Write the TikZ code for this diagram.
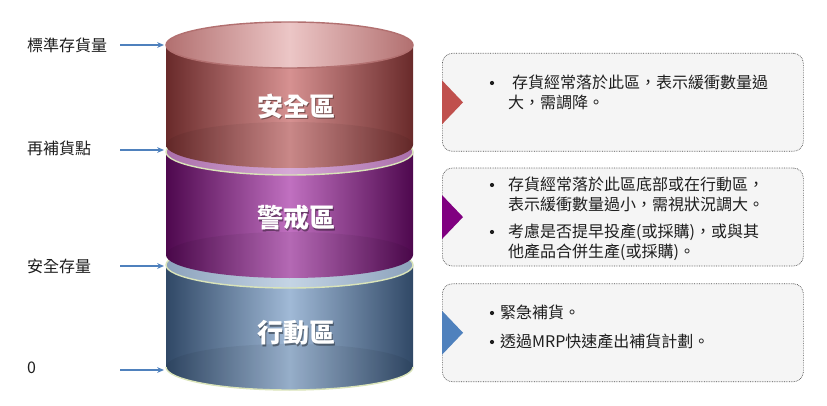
\documentclass[tikz,border=0pt]{standalone}
\usepackage{fontspec}
\setmainfont{Noto Sans CJK TC}
\usetikzlibrary{arrows.meta,positioning,calc}
\definecolor{redD}{RGB}{105,42,42}
\definecolor{redL}{RGB}{214,145,145}
\definecolor{redE}{RGB}{178,112,112}
\definecolor{redT}{RGB}{236,198,198}
\definecolor{purpleD}{RGB}{78,8,78}
\definecolor{purpleL}{RGB}{192,112,192}
\definecolor{purpleE}{RGB}{170,110,170}
\definecolor{purpleT}{RGB}{214,170,214}
\definecolor{blueD}{RGB}{48,72,102}
\definecolor{blueL}{RGB}{160,185,214}
\definecolor{blueE}{RGB}{140,162,188}
\definecolor{blueT}{RGB}{196,212,228}
\definecolor{rim}{RGB}{218,228,185}
\definecolor{arrowblue}{RGB}{79,129,189}
\definecolor{ink}{RGB}{30,30,30}
\definecolor{panelgray}{RGB}{245,245,245}
\definecolor{tri1}{RGB}{192,80,77}
\definecolor{tri2}{RGB}{128,0,128}
\definecolor{tri3}{RGB}{79,129,189}
\tikzset{
  >={Stealth[length=2.4mm,width=2mm]},
  lvl/.style={font=\fontsize{16}{20}\selectfont,text=ink,anchor=west,inner sep=0pt},
  lvl arrow/.style={->,draw=arrowblue,line width=1.3pt},
  zone/.style={font=\fontsize{26}{30}\selectfont\bfseries,text=white,inner sep=0pt},
  zone shadow/.style={zone,text=black,opacity=0.4},
  panel/.style={draw=gray!60!black,densely dotted,line width=0.7pt,fill=panelgray,rounded corners=10pt,
    minimum width=361pt,minimum height=98pt,inner sep=0pt},
  item/.style={font=\fontsize{16}{20}\selectfont,text=ink,align=left,anchor=north west,inner sep=0pt},
  dot/.style={circle,fill=ink,inner sep=0pt,minimum size=4.2pt},
}

\begin{document}
\begin{tikzpicture}[x=1pt,y=1pt]
    \useasboundingbox (0,0) rectangle (827,-406);
    % cylinders, drawn bottom first
    \foreach \cc/\yt/\yb/\rc in {blue/265/367/rim,purple/152/255/rim,red/45/145/redE}{
      \shade[left color=\cc D,right color=\cc D,middle color=\cc L]
        (166,-\yt) -- (166,-\yb) arc[start angle=180,end angle=360,x radius=123.5pt,y radius=23pt]
        -- (413,-\yt) -- cycle;
      \fill[black,opacity=0.06] (289.5,-\yb) ellipse[x radius=123.5pt,y radius=23pt];
      \shadedraw[left color=\cc E,right color=\cc E,middle color=\cc T,draw=\rc,line width=1.4pt]
        (289.5,-\yt) ellipse[x radius=123.5pt,y radius=23pt];
    }
    \draw[rim,line width=1.4pt] (166,-367) arc[start angle=180,end angle=360,x radius=123.5pt,y radius=23pt];
    \foreach \t/\y [count=\i] in {安全區/106,警戒區/218,行動區/333}{
      \node[zone shadow] (zs\i) at (297.5,-\y-1.5) {\t};
      \node[zone] (zone\i) at (296,-\y) {\t};
    }
    % levels on the left
    \foreach \t/\y/\ya [count=\i] in {標準存貨量/45/45,再補貨點/148/150,安全存量/266/266,0/368/370}{
      \node[lvl] (lvl\i) at (27,-\y) {\t};
      \coordinate (from\i) at (120,-\ya);
      \coordinate (to\i) at (164,-\ya);
      \draw[lvl arrow] (from\i) -- (to\i);
    }
    % notes on the right
    \node[panel,anchor=north west] (box1) at (442,-53) {};
    \node[panel,below=16pt of box1] (box2) {};
    \node[panel,below=17pt of box2] (box3) {};
    \foreach \b/\c in {box1/tri1,box2/tri2,box3/tri3}
      \fill[\c] ($(\b.west)+(0,22)$) -- ($(\b.west)+(21,0)$) -- ($(\b.west)+(0,-22)$) -- cycle;
    \node[dot] (d1) at (492,-83) {};
    \node[item] (t1) at (508,-75) {\hspace{4pt}存貨經常落於此區，表示緩衝數量過\\大，需調降。};
    \node[dot] (d2) at (492,-185) {};
    \node[item] (t2) at (508,-177) {存貨經常落於此區底部或在行動區，\\表示緩衝數量過小，需視狀況調大。};
    \node[dot] (d3) at (492,-232) {};
    \node[item] (t3) at (508,-224) {考慮是否提早投產(或採購)，或與其\\他產品合併生產(或採購)。};
    \node[dot] (d4) at (492,-313) {};
    \node[item] (t4) at (500,-305) {緊急補貨。};
    \node[dot] (d5) at (492,-342) {};
    \node[item] (t5) at (500,-334) {透過MRP快速產出補貨計劃。};
  \end{tikzpicture}
\end{document}
